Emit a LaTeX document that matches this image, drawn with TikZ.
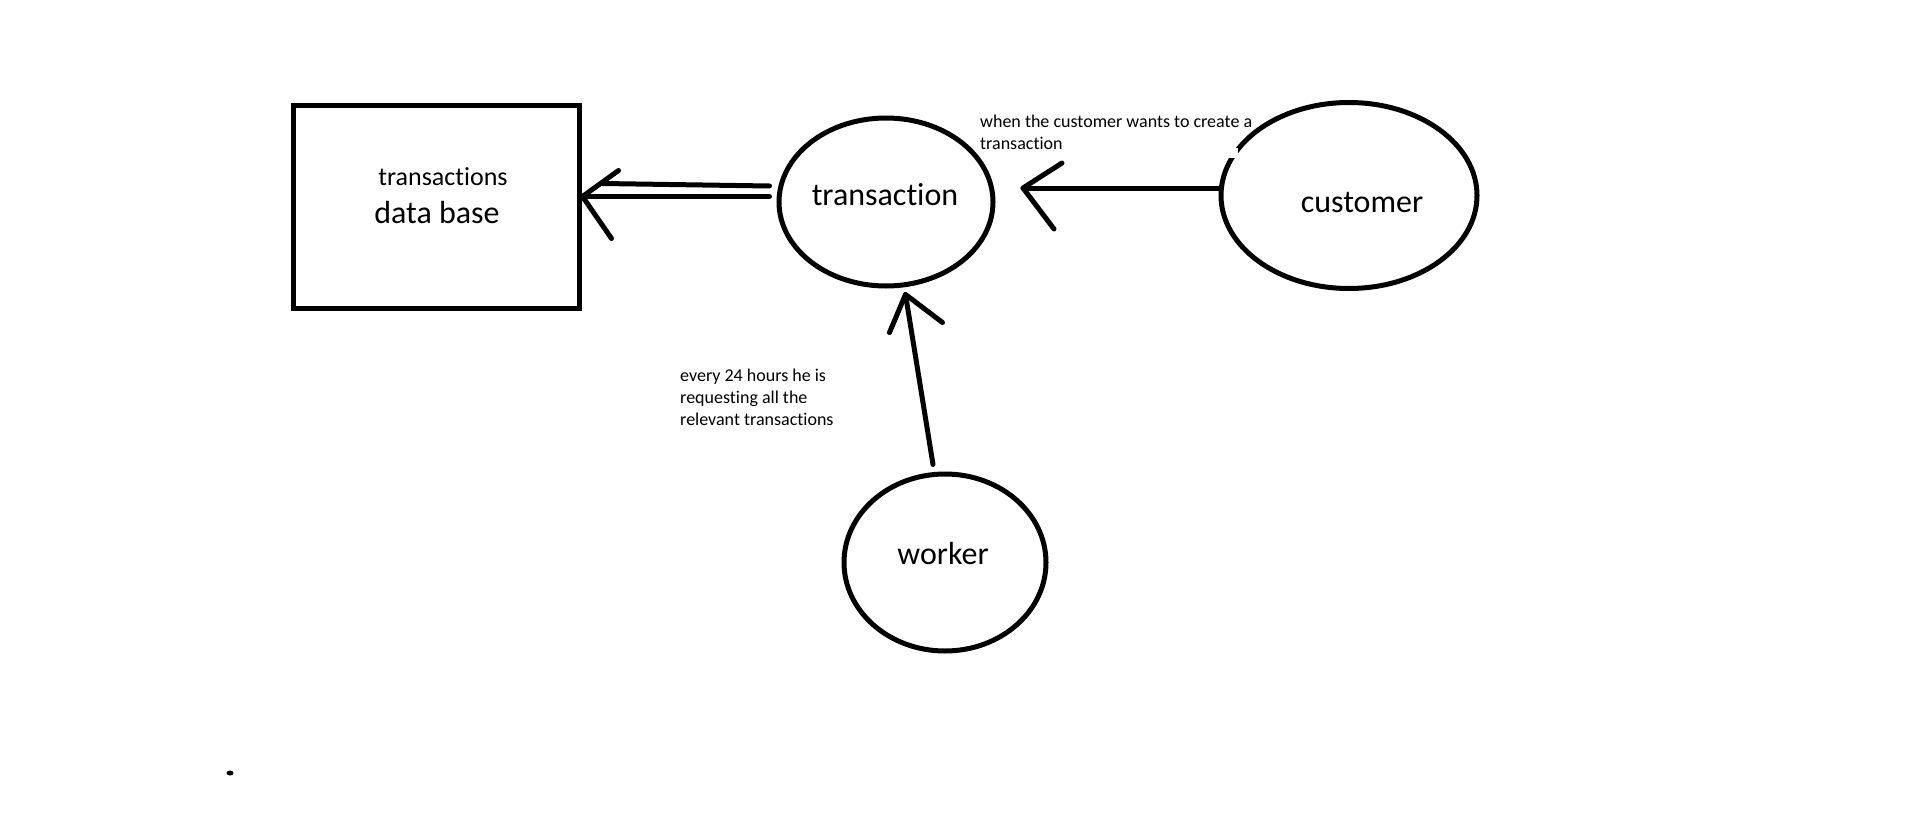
\documentclass[tikz,border=0pt]{standalone}
\usepackage{fontspec}
\setmainfont{Carlito}[Ligatures={NoCommon}]
\usetikzlibrary{shapes.geometric}
\begin{document}
\begin{tikzpicture}[x=1pt,y=-1pt,
  shapeline/.style={draw=black, line width=5pt},
  actor/.style={shapeline, ellipse, inner sep=0pt},
  store/.style={shapeline, rectangle, inner sep=0pt},
  edge/.style={draw=black, line width=5pt, line cap=round, line join=round},
  big/.style={font=\fontsize{32}{38}\selectfont, inner sep=0pt, anchor=base},
  mid/.style={font=\fontsize{26}{30}\selectfont, inner sep=0pt, anchor=base},
  note/.style={font=\fontsize{18}{22}\selectfont, align=left, inner sep=0pt, anchor=base west},
]
\useasboundingbox[fill=white] (0,0) rectangle (1914,816);

% shapes
\node[store, minimum width=286pt, minimum height=203pt] (db) at (436,206.5) {};
\node[actor, minimum width=214pt, minimum height=168pt] (trans) at (886,202) {};
\node[actor, minimum width=256pt, minimum height=186pt] (cust) at (1349,195.5) {};
\node[actor, minimum width=202pt, minimum height=177pt] (work) at (945,562.5) {};

% small eraser gap on the customer ellipse
\fill[white] (1229,148) rectangle (1238,158);

% texts
\node[mid] (dbt1) at (443,185) {transactions};
\node[big] (dbt2) at (437,223) {data base};
\node[big] (transt) at (885,205) {transaction};
\node[big] (custt) at (1362,212) {customer};
\node[big] (workt) at (943,564) {worker};

% multi-line notes: base anchor = baseline of the last line
\node[note] (n1) at (980,149) {when the customer wants to create a\\transaction};
\node[note] (n2) at (680,425.5) {every 24 hours he is\\requesting all the\\relevant transactions};

% double arrow transaction -> data base
\coordinate (dbtip) at ([xshift=1pt,yshift=10pt]db.east);
\draw[edge] ([shift={(-7,-5.5)}]trans.west) -- (dbtip);
\draw[edge] ([shift={(-7,-16)}]trans.west) -- ([shift={(20,-13)}]dbtip);
\draw[edge] ([shift={(36,-26)}]dbtip) -- (dbtip) -- ([shift={(29,42)}]dbtip);

% customer -> transaction
\coordinate (ctip) at ([shift={(27.5,-14)}]trans.east);
\draw[edge] ([yshift=7.5pt]cust.west) -- (ctip);
\draw[edge] ([shift={(39,-25)}]ctip) -- (ctip) -- ([shift={(31,41)}]ctip);

% worker -> transaction
\coordinate (wtip) at ([shift={(19.5,6)}]trans.south);
\draw[edge] ([shift={(-12,-7)}]work.north) -- (wtip);
\draw[edge] ([shift={(-16,38)}]wtip) -- (wtip) -- ([shift={(37,28)}]wtip);

% stray dot
\fill[black] (230,773) ellipse [x radius=3.5pt, y radius=2.5pt];
\end{tikzpicture}
\end{document}
